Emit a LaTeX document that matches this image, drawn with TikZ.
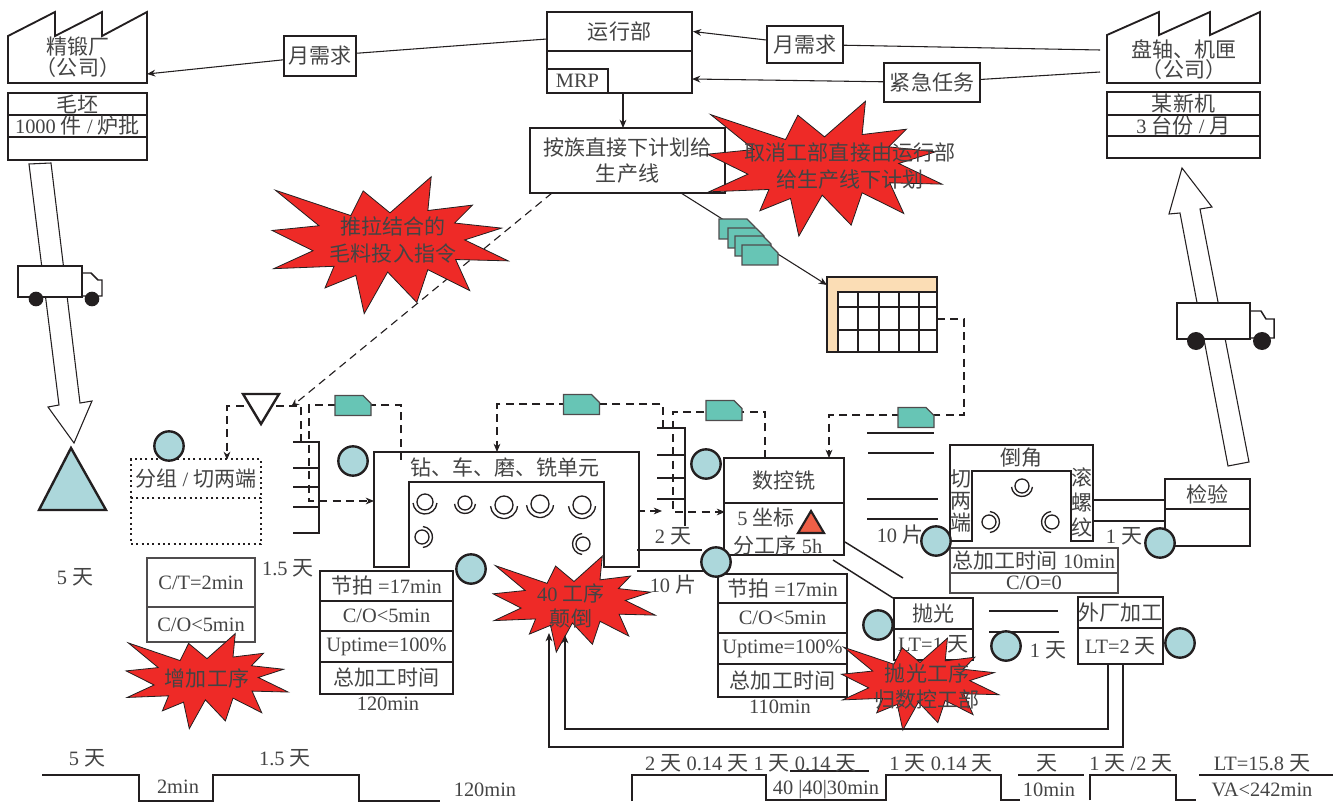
\documentclass[tikz,border=0pt]{standalone}
\usepackage{fontspec}
\setmainfont{Liberation Serif}
\newfontfamily\cjk[Scale=1.03]{Noto Sans CJK SC}
\newcommand{\zh}[1]{{\cjk #1}}
\usepackage{xcolor}
\usetikzlibrary{arrows.meta}
\definecolor{inkblack}{HTML}{231F20}
\definecolor{textgrey}{HTML}{444444}
\definecolor{burstred}{HTML}{EE2A27}
\definecolor{paleteal}{HTML}{ACD7DB}
\definecolor{sheetteal}{HTML}{67C5B5}
\definecolor{peach}{HTML}{FBDDB5}
\definecolor{alarm}{HTML}{EE5F47}
\tikzset{
  sz/.style 2 args={minimum width=#1*0.75pt, minimum height=#2*0.75pt},
  vsfont/.style={font=\fontsize{15.3pt}{20pt}\selectfont, text=textgrey},
  rowbox/.style={rectangle, draw=inkblack, fill=white, line width=1.4pt,
                 inner sep=0pt, align=center, vsfont},
  thinbox/.style={rowbox, draw=inkblack!80, line width=1pt},
  dotbox/.style={rowbox, line width=1.2pt, dash pattern=on 1.5pt off 2.5pt},
  lbl/.style={inner sep=0pt, align=center, vsfont},
  oper/.style={circle, draw=inkblack, fill=paleteal, line width=1.8pt,
               inner sep=0pt, minimum size=22pt},
  ln/.style={draw=inkblack, line width=0.8pt},
  edge/.style={draw=inkblack, line width=1.4pt},
  ar/.style={-{Stealth[length=2.2mm,width=1.8mm]}, ln},
  dashln/.style={ln, line width=0.85pt, dash pattern=on 6pt off 4pt},
  dashar/.style={ar, line width=0.85pt, dash pattern=on 6pt off 4pt},
  burst/.pic={
    \draw[draw=inkblack, fill=burstred, line width=0.6pt]
      (-342,-162) -- (-117,-87) -- (-80,-160) -- (0,-95) -- (123,-202)
      -- (113,-102) -- (246,-118) -- (193,-65) -- (333,-50) -- (223,-15)
      -- (353,47) -- (196,43) -- (238,135) -- (113,73) -- (80,170)
      -- (-7,80) -- (-77,203) -- (-102,90) -- (-194,127) -- (-167,63)
      -- (-347,70) -- (-230,17) -- (-352,-43) -- (-212,-57) -- cycle;
  },
  sheet/.pic={
    \draw[draw=inkblack!80, fill=sheetteal, line width=0.9pt]
      (-18,-10) -- (10,-10) -- (18,-2) -- (18,10) -- (-18,10) -- cycle;
  },
  machine/.pic={
    \draw[ln, line width=1pt] (0,0) circle (#1);
    \draw[ln, line width=1pt] (5:#1*1.5) arc (5:175:#1*1.5);
  },
  machine/.default=8,
}

\begin{document}
\begin{tikzpicture}[x=0.75pt, y=-0.75pt]
  \useasboundingbox (0,0) rectangle (1338,802);
  % suppliers and customer
  \draw[edge] (8,83) -- (8,36) -- (55,12) -- (55,36) -- (102,12) -- (102,36) -- (147,12) -- (147,83) -- cycle;
  \draw[edge] (1107,83) -- (1107,35) -- (1159,12) -- (1159,35) -- (1210,12) -- (1210,35) -- (1260,12) -- (1260,83) -- cycle;
  \node[lbl, font=\fontsize{15.3pt}{15.75pt}\selectfont] (factA) at (78,57) {\zh{精锻厂}\\\zh{（公司）}};
  \node[lbl, font=\fontsize{15.3pt}{15pt}\selectfont] (factB) at (1184,60) {\zh{盘轴、机匣}\\\zh{（公司）}};
  \node[rowbox, sz={139}{22}] (blankA) at (77.5,104) {\zh{毛坯}};
  \node[rowbox, sz={139}{22}] (lotA)   at (77.5,126) {1000 \zh{件} / \zh{炉批}};
  \node[rowbox, sz={139}{23}] (restA)  at (77.5,148.5) {};
  \node[rowbox, sz={153}{23}] (blankB) at (1183.5,103.5) {\zh{某新机}};
  \node[rowbox, sz={153}{21}] (lotB)   at (1183.5,125.5) {3 \zh{台份} / \zh{月}};
  \node[rowbox, sz={153}{22}] (restB)  at (1183.5,147) {};

  % planning
  \node[rowbox, sz={145}{39}] (opsTop) at (619.5,31.5) {\zh{运行部}};
  \node[rowbox, sz={145}{42}] (opsMid) at (619.5,72) {};
  \node[rowbox, sz={61}{24}]  (mrp)    at (577.5,81) {MRP};
  \node[rowbox, sz={72}{40}, line width=1.8pt] (dmdA) at (320,56) {\zh{月需求}};
  \node[rowbox, sz={76}{37}, line width=1.8pt] (dmdB) at (805,44.5) {\zh{月需求}};
  \node[rowbox, sz={96}{39}, line width=1.8pt] (urgent) at (932,82.5) {\zh{紧急任务}};
  \node[rowbox, sz={195}{65}, line width=1.8pt] (plan) at (627.5,160.5) {\zh{按族直接下计划给}\\\zh{生产线}};
  \node[rectangle, draw=inkblack, fill=peach, line width=1.6pt, sz={110}{75}] (sched) at (882,314.5) {};
  \draw[draw=inkblack, fill=white, line width=1.6pt] (838,292) rectangle (937,352);
  \draw[edge] (858,292) -- (858,352) (879,292) -- (879,352) (899,292) -- (899,352) (919,292) -- (919,352);
  \draw[edge] (838,307) -- (937,307) (838,330) -- (937,330);

  \coordinate (opsWest) at (547,39);
  \coordinate (factBup) at (1100,50);
  \coordinate (factBlo) at (1100,72);
  \coordinate (factAin) at (147,74);
  \coordinate (planOut) at (681,193);
  \coordinate (schedIn) at (827,285);
  \coordinate (planDash) at (552,193);
  \coordinate (trigger) at (291,407);
  \draw[ln] (opsWest) -- (dmdA);
  \draw[ar] (dmdA) -- (factAin);
  \draw[ln] (factBup) -- (dmdB);
  \draw[ar] (dmdB) -- (opsTop.east);
  \draw[ln] (factBlo) -- (urgent);
  \draw[ar] (urgent) -- (692,79);
  \draw[ar] (623,93) -- (623,128);
  \draw[ar] (planOut) -- (schedIn);
  \draw[dashar] (planDash) -- (trigger);
  \pic at (737,229) {sheet};
  \pic at (746,238) {sheet};
  \pic at (753,246) {sheet};
  \pic at (760,255) {sheet};

  % transport arrows
  \draw[ln, fill=white] (29,164) -- (51,163) -- (80,403) -- (92,401) -- (74,443) -- (48,407) -- (59,405) -- cycle;
  \draw[ln, fill=white] (1182,168) -- (1212,207) -- (1200,209) -- (1249,462) -- (1228,466) -- (1180,213) -- (1169,214) -- cycle;
  \node[rectangle, draw=inkblack, fill=white, line width=1.6pt, sz={64}{31}] (truckA) at (50,281.5) {};
  \draw[ln, line width=1.1pt] (truckA.north east |- 0,273) -- (91,273) -- (98,280) -- (102,280) -- (102,296) -- (82,296);
  \node[circle, fill=inkblack, inner sep=0pt, minimum size=11pt] (wheelA) at (36,299) {};
  \node[circle, fill=inkblack, inner sep=0pt, minimum size=11pt] (wheelB) at (92,299) {};
  \node[rectangle, draw=inkblack, fill=white, line width=1.6pt, sz={73}{36}] (truckB) at (1213.5,321) {};
  \draw[ln, line width=1.1pt] (truckB.north east |- 0,311) -- (1261,311) -- (1266,319) -- (1274,319) -- (1274,338) -- (1250,338);
  \node[circle, fill=inkblack, inner sep=0pt, minimum size=13.5pt] (wheelC) at (1196,341) {};
  \node[circle, fill=inkblack, inner sep=0pt, minimum size=13.5pt] (wheelD) at (1262,341) {};
  \draw[draw=inkblack, fill=paleteal, line width=1.8pt] (71,448) -- (106,510) -- (39,510) -- cycle;
  \node[lbl] (stockDays) at (75,577) {5 \zh{天}};

  % dashed signals on the floor
  \coordinate (cutIn) at (227,460);
  \coordinate (stackTop) at (301,442);
  \coordinate (cellTop) at (401,460);
  \coordinate (cellIn) at (374,501);
  \coordinate (stackTwo) at (663,428);
  \coordinate (cellNorth) at (497,452);
  \coordinate (cncTop) at (765,458);
  \coordinate (cncIn) at (725,512);
  \coordinate (schedOut) at (937,319);
  \coordinate (cncNorth) at (829,458);
  \draw[dashar] (stackTop) |- (cutIn |- 0,406) -- (cutIn);
  \draw[dashar] (cellTop) |- (309,405) |- (cellIn);
  \draw[dashar] (stackTwo) |- (497,404) -- (cellNorth);
  \draw[dashar] (cncTop) |- (673,412) |- (cncIn);
  \draw[dashar] (schedOut) -| (964,415) -| (cncNorth);
  \draw[dashar] (637,511) -- (662,511);
  \pic at (353,405.5) {sheet};
  \pic at (581.5,404.5) {sheet};
  \pic at (724,410.5) {sheet};
  \pic at (916,417.5) {sheet};
  \draw[draw=inkblack, fill=white, line width=1.8pt] (243,394) -- (279,394) -- (261,424) -- cycle;

  % grouping and cutting
  \node[dotbox, sz={130}{39}] (cutTop) at (196,478.5) {\zh{分组} / \zh{切两端}};
  \node[dotbox, sz={130}{46}] (cutLow) at (196,521) {};
  \node[thinbox, sz={108}{49}] (ctBox) at (201,582.5) {C/T=2min};
  \node[thinbox, sz={108}{35}] (coBox) at (201,624.5) {C/O<5min};
  \node[oper] (opCut) at (169,446) {};
  \node[lbl] (waitA) at (288,568) {1.5 \zh{天}};
  \draw[edge] (293,442) -- (319,442) -- (319,533) -- (293,533);
  \draw[edge] (293,468) -- (319,468) (293,487) -- (319,487) (293,507) -- (319,507);
  \node[oper] (opStack) at (353,461) {};

  % machining cell
  \draw[draw=inkblack, fill=white, line width=1.7pt] (374,452) -- (639,452) -- (639,567) -- (604,567)
    -- (604,482) -- (409,482) -- (409,567) -- (374,567) -- cycle;
  \draw[dashln] (401,452) -- (401,460);
  \node[lbl] (cellName) at (505,467) {\zh{钻、车、磨、铣单元}};
  \pic at (425,502) {machine=8};
  \pic at (465,503) {machine=7};
  \pic at (504,505) {machine=9};
  \pic at (540,504) {machine=9};
  \pic at (582,505) {machine=9};
  \pic[rotate=90] at (422,537) {machine=7};
  \pic[rotate=-90] at (583,544) {machine=7};
  \node[rowbox, sz={133}{30}] (taktA) at (386.5,586) {\zh{节拍} =17min};
  \node[rowbox, sz={133}{30}] (coA) at (386.5,616) {C/O<5min};
  \node[rowbox, sz={133}{31}] (upA) at (386.5,646.5) {Uptime=100\%};
  \node[rowbox, sz={133}{32}] (totalA) at (386.5,678) {\zh{总加工时间}};
  \node[lbl] (timeA) at (388,704) {120min};
  \node[oper] (opCell) at (471,569) {};

  % stack before milling
  \draw[edge] (657,428) -- (685,428) -- (685,526);
  \draw[edge] (657,455) -- (685,455) (657,478) -- (685,478) (657,499) -- (685,499);
  \node[lbl] (waitB) at (673,536) {2 \zh{天}};
  \node[lbl] (pcsA) at (673,585) {10 \zh{片}};
  \draw[edge] (637,550) -- (702,550) (637,571) -- (716,571);
  \node[oper] (opStackB) at (706,464) {};

  % milling
  \node[rowbox, sz={120}{45}] (cncTopBox) at (784,480.5) {\zh{数控铣}};
  \node[rowbox, sz={120}{52}] (cncLow) at (784,529) {};
  \node[lbl] (axes) at (766,518) {5 \zh{坐标}};
  \node[lbl] (split) at (778,545) {\zh{分工序} 5h};
  \draw[draw=inkblack, fill=alarm, line width=1.6pt] (811,511) -- (824,533) -- (798,533) -- cycle;
  \node[rowbox, sz={129}{29}] (taktB) at (782.5,588.5) {\zh{节拍} =17min};
  \node[rowbox, sz={129}{30}] (coB) at (782.5,618) {C/O<5min};
  \node[rowbox, sz={129}{31}] (upB) at (782.5,648.5) {Uptime=100\%};
  \node[rowbox, sz={129}{33}] (totalB) at (782.5,680.5) {\zh{总加工时间}};
  \node[lbl] (timeB) at (780,707) {110min};
  \node[oper] (opCnc) at (716,562) {};
  \draw[ln, line width=1.1pt] (845,542) -- (903,578) (833,560) -- (893,598);

  % polishing
  \node[rowbox, sz={79}{31}] (polish) at (933.5,613.5) {\zh{抛光}};
  \node[rowbox, sz={79}{31}] (polishLt) at (933.5,644.5) {LT=1 \zh{天}};
  \node[oper] (opPolish) at (878,625) {};

  % stacks and chamfer cell
  \draw[edge] (867,433) -- (934,433) (868,453) -- (934,453) (867,499) -- (938,499) (867,519) -- (938,519);
  \node[lbl] (pcsB) at (900,535) {10 \zh{片}};
  \draw[draw=inkblack, fill=white, line width=1.6pt] (950,445) -- (1093,445) -- (1093,541) -- (1071,541)
    -- (1071,471) -- (972,471) -- (972,541) -- (950,541) -- cycle;
  \node[lbl] (chamfer) at (1021,458) {\zh{倒角}};
  \node[lbl, font=\fontsize{15.3pt}{16.5pt}\selectfont] (cutEnds) at (961,501) {\zh{切}\\\zh{两}\\\zh{端}};
  \node[lbl, font=\fontsize{15.3pt}{18.75pt}\selectfont] (threads) at (1082,502) {\zh{滚}\\\zh{螺}\\\zh{纹}};
  \pic at (1022,486) {machine=7};
  \pic[rotate=90] at (989,522) {machine=7};
  \pic[rotate=-90] at (1052,522) {machine=7};
  \node[thinbox, sz={168}{25}] (totalC) at (1034,560.5) {\zh{总加工时间} 10min};
  \node[thinbox, sz={168}{20}] (coC) at (1034,583) {C/O=0};
  \node[oper] (opStackC) at (936,541) {};

  % inspection
  \draw[edge] (1094,500) -- (1165,500) (1094,521) -- (1165,521);
  \node[rowbox, sz={85}{30}] (check) at (1207.5,494) {\zh{检验}};
  \node[rowbox, sz={85}{37}] (checkLow) at (1207.5,527.5) {};
  \node[lbl] (waitC) at (1124,536) {1 \zh{天}};
  \node[oper] (opCheck) at (1160,543) {};

  % outside processing
  \draw[edge] (989,611) -- (1058,611) (989,632) -- (1059,632);
  \node[oper] (opWait) at (1006,646) {};
  \node[lbl] (waitD) at (1048,650) {1 \zh{天}};
  \node[rowbox, sz={85}{31}] (outside) at (1120.5,612.5) {\zh{外厂加工}};
  \node[rowbox, sz={85}{36}] (outsideLt) at (1120.5,646) {LT=2 \zh{天}};
  \node[oper] (opOutside) at (1180,643) {};

  % improvement bursts
  \pic[xscale=0.335, yscale=0.338] at (390,245) {burst};
  \node[lbl] (burstA) at (393,240) {\zh{推拉结合的}\\\zh{毛料投入指令}};
  \pic[xscale=0.333, yscale=0.333] at (824.5,168.5) {burst};
  \node[lbl] (burstB) at (850,166) {\zh{取消工部直接由运行部}\\\zh{给生产线下计划}};
  \pic[xscale=0.23, yscale=0.235] at (207,681) {burst};
  \node[lbl] (burstC) at (207,678) {\zh{增加工序}};
  \pic[xscale=0.23, yscale=0.237] at (574,604) {burst};
  \node[lbl, font=\fontsize{15.3pt}{18.75pt}\selectfont] (burstD) at (571,605.5) {40 \zh{工序}\\\zh{颠倒}};
  \pic[xscale=0.223, yscale=0.227] at (920,684) {burst};
  \node[lbl, font=\fontsize{15.3pt}{19.5pt}\selectfont] (burstE) at (927,686) {\zh{抛光工序}\\\zh{归数控工部}};

  % rework loops
  \coordinate (backInner) at (1108,664);
  \coordinate (backOuter) at (1123,664);
  \coordinate (tipInner) at (565,635);
  \coordinate (tipOuter) at (549,633);
  \draw[ar] (backInner) |- (565,729) -- (tipInner);
  \draw[ar] (backOuter) |- (549,747) -- (tipOuter);

  % time line
  \draw[ln] (42,775) -- (139,775) -- (139,801) -- (213,801) -- (213,775) -- (359,775) -- (359,801) -- (440,801);
  \draw[ln] (632,801) -- (632,775) -- (766,775) -- (766,800) -- (886,800) -- (886,775) -- (1001,775) -- (1001,800) -- (1020,800);
  \draw[ln] (790,771) -- (869,771);
  \draw[ln] (1018,775) -- (1084,775);
  \draw[ln] (1090,800) -- (1090,775) -- (1176,775) -- (1176,800) -- (1196,800);
  \draw[ln] (1199,775) -- (1333,775);
  \node[lbl] (tA) at (87,758) {5 \zh{天}};
  \node[lbl] (tB) at (178,787) {2min};
  \node[lbl] (tC) at (285,758) {1.5 \zh{天}};
  \node[lbl] (tD) at (485,790) {120min};
  \node[lbl] (tE) at (751,763) {2 \zh{天} 0.14 \zh{天} 1 \zh{天} 0.14 \zh{天}};
  \node[lbl] (tF) at (826,790) {40 |40|30min};
  \node[lbl] (tG) at (941,763) {1 \zh{天} 0.14 \zh{天}};
  \node[lbl] (tH) at (1047,763) {\zh{天}};
  \node[lbl] (tI) at (1049,790) {10min};
  \node[lbl] (tJ) at (1131,763) {1 \zh{天} /2 \zh{天}};
  \node[lbl] (tK) at (1262,763) {LT=15.8 \zh{天}};
  \node[lbl] (tL) at (1262,790) {VA<242min};
\end{tikzpicture}
\end{document}
